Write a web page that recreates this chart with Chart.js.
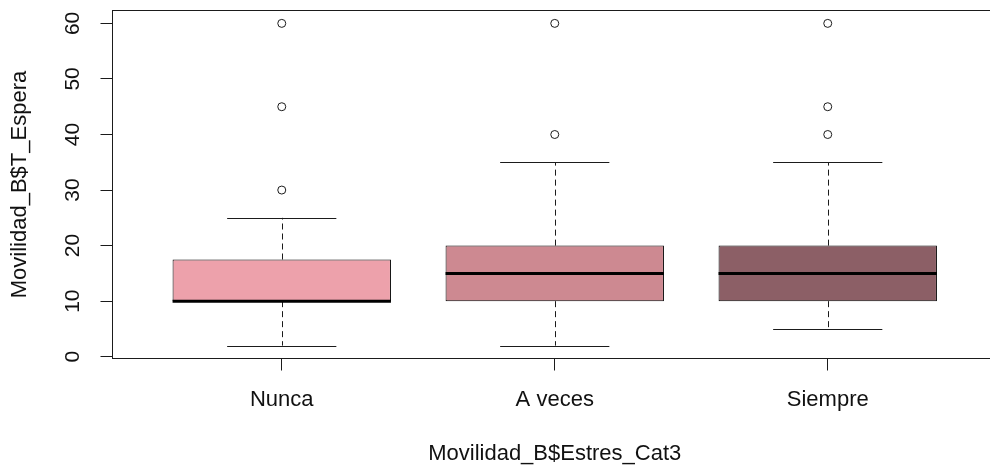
<!DOCTYPE html>
<html>
<head>
<meta charset="utf-8">
<script src="https://cdn.jsdelivr.net/npm/chart.js@4.4.1/dist/chart.umd.min.js"></script>
<style>
  html, body { margin: 0; padding: 0; background: #ffffff; overflow: hidden; }
  #wrap { width: 1002px; height: 467px; }
</style>
</head>
<body>
<div id="wrap"><canvas id="c" width="1002" height="467"></canvas></div>
<script>
// Tiempo de espera por categoría de estrés
const categories = ['Nunca', 'A veces', 'Siempre'];
const whiskerLow = [2, 2, 5];
const q1 = [10, 10, 10];
const median = [10, 15, 15];
const q3 = [17.5, 20, 20];
const whiskerHigh = [25, 35, 35];
const outliers = [[30, 45, 60], [40, 60], [40, 45, 60]];
const boxColors = ['#eda1ab', '#cd8991', '#8c5f66'];
const yTicks = [0, 10, 20, 30, 40, 50, 60];
const xTitle = 'Movilidad_B$Estres_Cat3';
const yTitle = 'Movilidad_B$T_Espera';

const INK = '#1b1b1b';
const FAMILY = '"Liberation Sans", Arial, sans-serif';
const FONT = { family: FAMILY, size: 22 };
const YTICK_FONT = { family: FAMILY, size: 21 };

const boxData = categories.map((c, i) => ({ x: i + 1, y: [q1[i], q3[i]] }));
const outlierData = [];
outliers.forEach((vals, i) => vals.forEach(v => outlierData.push({ x: i + 1, y: v })));

// whiskers, staples, medians and the frame around the plot region
const boxplotExtras = {
  id: 'boxplotExtras',
  beforeDatasetsDraw(chart) {
    const { ctx, scales: { x, y } } = chart;
    ctx.save();
    ctx.strokeStyle = INK;
    ctx.lineWidth = 1;
    categories.forEach((c, i) => {
      const cx = Math.round(x.getPixelForValue(i + 1)) + 0.5;
      ctx.setLineDash([6, 4]);
      ctx.beginPath();
      ctx.moveTo(cx, y.getPixelForValue(q3[i]));
      ctx.lineTo(cx, y.getPixelForValue(whiskerHigh[i]));
      ctx.moveTo(cx, y.getPixelForValue(q1[i]));
      ctx.lineTo(cx, y.getPixelForValue(whiskerLow[i]));
      ctx.stroke();
      ctx.setLineDash([]);
      const sl = x.getPixelForValue(i + 1 - 0.2);
      const sr = x.getPixelForValue(i + 1 + 0.2);
      ctx.beginPath();
      [whiskerHigh[i], whiskerLow[i]].forEach(v => {
        const py = Math.round(y.getPixelForValue(v)) + 0.5;
        ctx.moveTo(sl, py);
        ctx.lineTo(sr, py);
      });
      ctx.stroke();
    });
    ctx.restore();
  },
  afterDatasetsDraw(chart) {
    const { ctx, chartArea, scales: { x, y } } = chart;
    ctx.save();
    ctx.strokeStyle = '#000';
    ctx.lineWidth = 3;
    categories.forEach((c, i) => {
      const py = y.getPixelForValue(median[i]);
      ctx.beginPath();
      ctx.moveTo(x.getPixelForValue(i + 1 - 0.4), py);
      ctx.lineTo(x.getPixelForValue(i + 1 + 0.4), py);
      ctx.stroke();
    });
    ctx.strokeStyle = INK;
    ctx.lineWidth = 1;
    ctx.strokeRect(chartArea.left, chartArea.top, chartArea.right - chartArea.left, chartArea.bottom - chartArea.top);
    ctx.restore();
  }
};

function noOverhang(scale) {
  scale.paddingTop = 0;
  scale.paddingBottom = 0;
  scale.paddingLeft = 0;
  scale.paddingRight = 0;
}

new Chart(document.getElementById('c'), {
  type: 'bar',
  data: {
    datasets: [
      {
        type: 'bar',
        data: boxData,
        backgroundColor: boxColors,
        borderColor: '#000',
        borderWidth: 1,
        borderSkipped: false,
        barPercentage: 1,
        categoryPercentage: 0.8,
        order: 2
      },
      {
        type: 'scatter',
        data: outlierData,
        pointStyle: 'circle',
        pointRadius: 4,
        pointBorderWidth: 1,
        pointBorderColor: INK,
        pointBackgroundColor: '#ffffff',
        order: 1
      }
    ]
  },
  options: {
    responsive: false,
    animation: false,
    events: [],
    layout: { padding: { top: 10.5, right: 2, left: 0, bottom: 0 } },
    plugins: { legend: { display: false }, tooltip: { enabled: false } },
    scales: {
      x: {
        type: 'linear',
        min: 0.38,
        max: 3.62,
        offset: false,
        afterBuildTicks(scale) { scale.ticks = categories.map((c, i) => ({ value: i + 1 })); },
        afterFit(scale) { scale.height = 108.5; noOverhang(scale); },
        grid: { display: true, offset: false, drawOnChartArea: false, drawTicks: true, tickLength: 12, color: INK, lineWidth: 1 },
        border: { display: false },
        ticks: {
          color: '#111',
          font: FONT,
          padding: 16,
          maxRotation: 0,
          autoSkip: false,
          callback: (v) => categories[Math.round(v) - 1]
        },
        title: { display: true, text: xTitle, color: '#111', font: FONT, padding: { top: 0, bottom: 0 } }
      },
      y: {
        type: 'linear',
        min: -0.32,
        max: 62.32,
        afterBuildTicks(scale) { scale.ticks = yTicks.map(v => ({ value: v })); },
        afterFit(scale) { scale.width = 112.5; noOverhang(scale); },
        grid: { display: true, drawOnChartArea: false, drawTicks: true, tickLength: 12, color: INK, lineWidth: 1 },
        border: { display: false },
        ticks: {
          color: '#111',
          font: YTICK_FONT,
          padding: 16,
          minRotation: 90,
          maxRotation: 90,
          crossAlign: 'center',
          autoSkip: false,
          callback: (v) => String(v)
        },
        title: { display: true, text: yTitle, color: '#111', font: FONT, padding: { top: 7, bottom: 0 } }
      }
    }
  },
  plugins: [boxplotExtras]
});
</script>
</body>
</html>
